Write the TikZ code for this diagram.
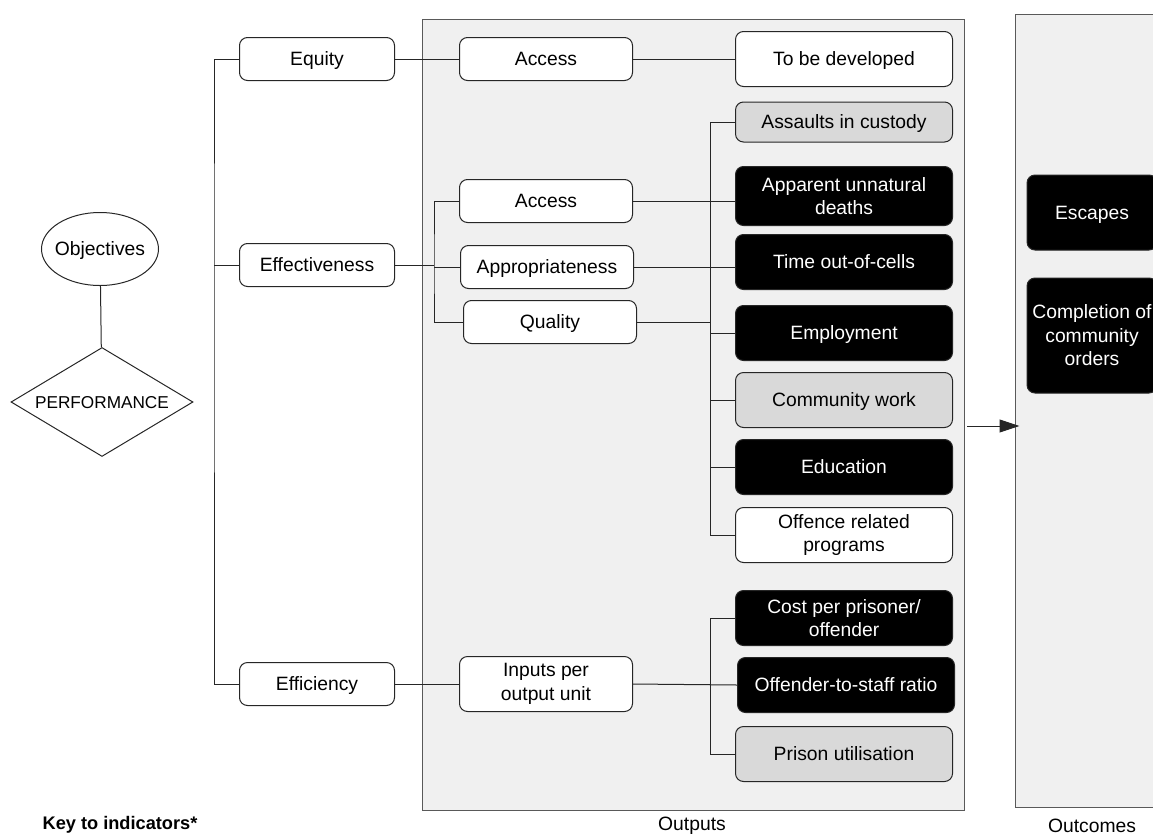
\documentclass[tikz,border=0pt]{standalone}
\usepackage{fontspec}
\setmainfont{Liberation Sans}
\usetikzlibrary{arrows.meta,shapes.geometric}
\definecolor{panelgrey}{HTML}{F0F0F0}
\definecolor{keygrey}{HTML}{D9D9D9}

\begin{document}
\begin{tikzpicture}[x=1pt, y=-1pt]
        %style
        \tikzset{box/.style = {shape=rectangle, draw=black!85, rounded corners=8pt, fill=white, line width=1pt, align=center, inner sep=2pt, font=\fontsize{19.3}{23.5}\selectfont}}
        \tikzset{oneline/.style = {text height=13.8pt, text depth=0pt}}
        \tikzset{lvlbox/.style = {box, oneline, minimum width=155pt, minimum height=43pt}}
        \tikzset{subbox/.style = {box, minimum width=173pt, minimum height=43pt}}
        \tikzset{indbox/.style = {box, minimum width=217pt, minimum height=55pt}}
        \tikzset{darkind/.style = {fill=black, text=white}}
        \tikzset{greyind/.style = {fill=keygrey}}
        \tikzset{panel/.style = {shape=rectangle, draw=black!65, fill=panelgrey, line width=1pt}}
        \tikzset{link/.style = {draw=black!85, line width=1pt}}
        \tikzset{caption/.style = {font=\fontsize{19.3}{23.5}\selectfont}}
        \clip (0,0) rectangle (1153,835);
        % panels
        \node[panel, minimum width=542pt, minimum height=791pt] (outputs)  at (693,414.5) {};
        \node[panel, minimum width=160pt, minimum height=793pt] (outcomes) at (1095,410.5) {};
        % objectives
        \node[ellipse, draw=black!85, line width=1pt, inner xsep=-5pt, inner ysep=0pt, minimum width=117pt, minimum height=73pt, caption, oneline] (objectives) at (100,249) {Objectives};
        \node[diamond, aspect=1.67, draw=black!85, line width=1pt, inner sep=0pt, minimum width=182pt, minimum height=109pt, font=\fontsize{17.2}{20}\selectfont, text height=12.3pt, text depth=0pt] (performance) at (102,402) {PERFORMANCE};
        % first level
        \node[lvlbox] (equity)     at (317,59)  {Equity};
        \node[lvlbox] (effect)     at (317,265) {Effectiveness};
        \node[lvlbox] (efficiency) at (317,684) {Efficiency};
        % second level
        \node[subbox, oneline] (access)  at (546,59)  {Access};
        \node[subbox, oneline] (access2) at (546,201) {Access};
        \node[subbox, oneline] (approp)  at (547,267) {Appropriateness};
        \node[subbox, oneline] (quality) at (550,322) {Quality};
        \node[subbox, minimum height=55pt] (inputs) at (546,684) {Inputs per\\output unit};
        % indicators
        \node[indbox, oneline] (develop) at (844,59) {To be developed};
        \node[indbox, oneline, greyind, minimum height=40pt] (assaults) at (844,122) {Assaults in custody};
        \node[indbox, darkind, minimum height=59pt] (deaths) at (844,196) {Apparent unnatural\\deaths};
        \node[indbox, oneline, darkind] (cells)     at (844,262) {Time out-of-cells};
        \node[indbox, oneline, darkind] (employ)    at (844,333) {Employment};
        \node[indbox, oneline, greyind] (community) at (844,400) {Community work};
        \node[indbox, oneline, darkind] (education) at (844,467) {Education};
        \node[indbox]          (offence)   at (844,535) {Offence related\\programs};
        \node[indbox, darkind] (cost)      at (844,618) {Cost per prisoner/\\offender};
        \node[indbox, oneline, darkind] (ratio)     at (846,685) {Offender-to-staff ratio};
        \node[indbox, oneline, greyind] (prison)    at (844,754) {Prison utilisation};
        % outcomes
        \node[box, oneline, darkind, minimum width=130pt, minimum height=75pt]  (escapes)    at (1092,212.5) {Escapes};
        \node[box, darkind, minimum width=130pt, minimum height=115pt] (completion) at (1092,335.5) {Completion of\\community\\orders};
        % connectors
        \coordinate (busA) at (214,265);
        \coordinate (busB) at (434,266);
        \coordinate (busC) at (710,333);
        \coordinate (busD) at (710,685);
        \draw[link] (objectives) -- (performance);
        \draw[link] (equity.west) -| (busA) |- (efficiency.west);
        \draw[link] (effect.west) -- (busA);
        \draw[link] (equity.east) -- (access.west);
        \draw[link] (access.east) -- (develop.west);
        \draw[link] (effect.east) -- (effect.east -| busB);
        \draw[link] (access2.west) -| (busB) |- (quality.west);
        \draw[link] (approp.west -| busB) -- (approp.west);
        \draw[link] (access2.east) -- (access2.east -| deaths.west);
        \draw[link] (approp.east) -- (approp.east -| cells.west);
        \draw[link] (quality.east) -- (quality.east -| busC);
        \draw[link] (assaults.west) -| (busC) |- (offence.west);
        \draw[link] (busC) -- (employ.west);
        \draw[link] (community.west -| busC) -- (community.west);
        \draw[link] (education.west -| busC) -- (education.west);
        \draw[link] (efficiency.east) -- (inputs.west);
        \draw[link] (inputs.east) -- (ratio.west);
        \draw[link] (cost.west) -| (busD) |- (prison.west);
        \coordinate (flow) at (967,426);
        \draw[link, -{Triangle[length=20pt, width=13pt]}, shorten >=-5pt] (flow) -- (flow -| outcomes.west);
        % labels
        \node[caption] (outlabel)  at (692,826)  {Outputs};
        \node[caption] (outclabel) at (1092,826) {Outcomes};
        \node[font=\fontsize{18.2}{21}\selectfont\bfseries] (key) at (120,825) {Key to indicators*};
\end{tikzpicture}
\end{document}
